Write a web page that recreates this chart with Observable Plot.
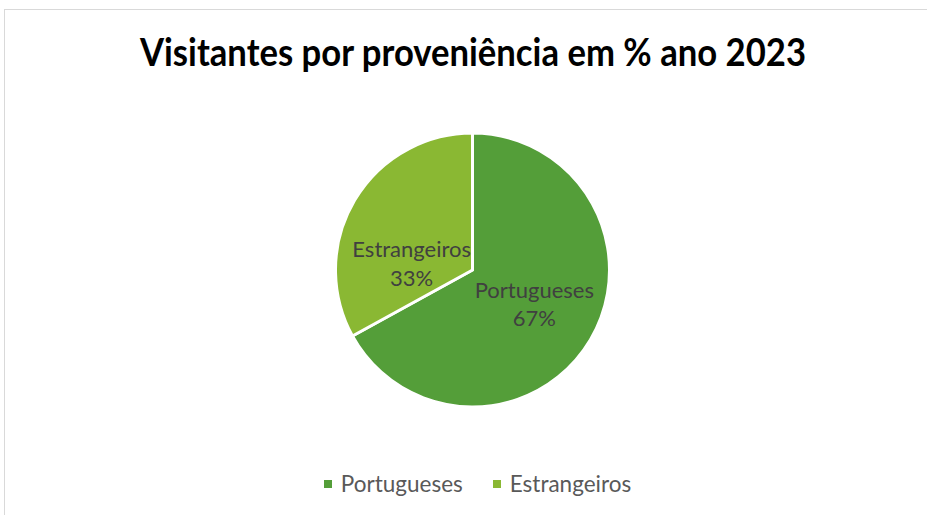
<!DOCTYPE html>
<html>
<head>
<meta charset="utf-8">
<script src="https://cdn.jsdelivr.net/npm/d3@7"></script>
<script src="https://cdn.jsdelivr.net/npm/@observablehq/plot@0.6"></script>
<style>
  html, body { margin: 0; padding: 0; background: #fff; width: 927px; height: 515px; overflow: hidden; }
  #frame { position: absolute; left: 4px; top: 9px; width: 930px; height: 520px;
           border-top: 1px solid #d9d9d9; border-left: 1px solid #d9d9d9; box-sizing: border-box; }
  #title { position: absolute; left: 0; top: 0; }
  #chart { position: absolute; left: 0; top: 100px; }
  #legend { position: absolute; left: 11px; top: 470px; width: 933px; display: flex; justify-content: center;
            font-family: Lato, "Open Sans", sans-serif; font-size: 22.5px; color: #595959; gap: 30px; }
  #legend .item { display: flex; align-items: center; }
  #legend .sw { width: 8px; height: 8px; margin-right: 9px; }
</style>
</head>
<body>
<div id="frame"></div>
<svg id="title" width="927" height="100">
  <text x="473" y="66" text-anchor="middle" font-family="Lato, 'Open Sans', sans-serif" font-weight="bold"
        font-size="39" fill="#000" textLength="666" lengthAdjust="spacingAndGlyphs">Visitantes por proveniência em % ano 2023</text>
</svg>
<div id="chart"></div>
<div id="legend"></div>
<script>
const categories = ["Portugueses", "Estrangeiros"];
const values = [67, 33];
const colors = ["#549E39", "#8AB833"];

const data = categories.map((c, i) => ({category: c, value: values[i]}));
const arcs = d3.pie().value(d => d.value).sort(null)(data);

const colorScale = Plot.scale({color: {type: "ordinal", domain: categories, range: colors}});

function pieMark(index, scales) {
  const cx = scales.x(0), cy = scales.y(0), r = scales.x(1) - scales.x(0);
  const arc = d3.arc().innerRadius(0).outerRadius(r);
  const g = d3.create("svg:g").attr("transform", `translate(${cx},${cy})`);
  g.selectAll("path").data(arcs).join("path")
    .attr("d", arc)
    .attr("fill", d => colorScale.apply(d.data.category))
    .attr("stroke", "#fff").attr("stroke-width", 3).attr("stroke-linejoin", "round");
  return g.node();
}

const k = 0.52;
const labelData = arcs.map(a => {
  const m = (a.startAngle + a.endAngle) / 2;
  return {category: a.data.category, value: a.data.value, x: k * Math.sin(m), y: k * Math.cos(m)};
});
const labelDy = {"Portugueses": -4, "Estrangeiros": 28};

const plot = Plot.plot({
  width: 927, height: 340, margin: 0,
  x: {domain: [-1, 1], range: [335.5, 609.5], axis: null},
  y: {domain: [-1, 1], range: [307, 33], axis: null},
  marks: [
    pieMark,
    ...labelData.map(d => Plot.text([d], {
      x: "x", y: "y", text: d => `${d.category}\n${d.value}%`,
      dy: labelDy[d.category], lineHeight: 1.3, lineAnchor: "middle",
      fontSize: 22, fill: "#404040", fontFamily: "Lato, 'Open Sans', sans-serif"
    }))
  ]
});
document.getElementById("chart").appendChild(plot);

const legend = document.getElementById("legend");
categories.forEach((c, i) => {
  const item = document.createElement("div");
  item.className = "item";
  const sw = document.createElement("div");
  sw.className = "sw";
  sw.style.background = colorScale.apply(c);
  const t = document.createElement("span");
  t.textContent = c;
  item.appendChild(sw); item.appendChild(t);
  legend.appendChild(item);
});
</script>
</body>
</html>
